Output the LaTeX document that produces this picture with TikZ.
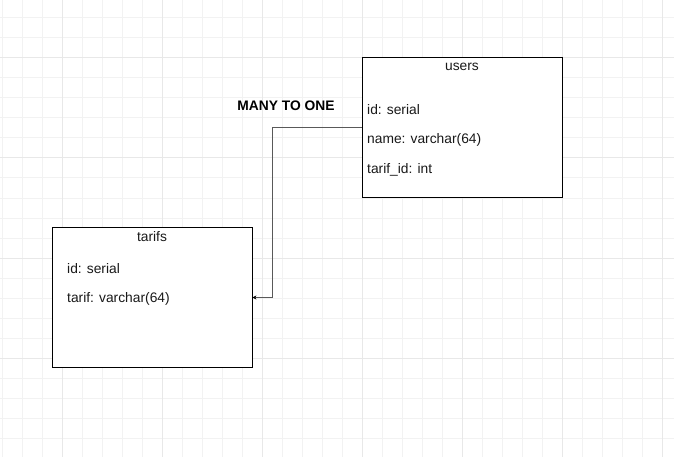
\documentclass[tikz,border=0pt]{standalone}
\usepackage{fontspec}
\setmainfont{Liberation Sans}
\usetikzlibrary{arrows.meta}
\tikzset{
  minorgrid/.style={draw=black!5, line width=1pt},
  majorgrid/.style={draw=black!9, line width=1pt},
  table/.style={draw=black, line width=0.8pt, fill=white, rectangle, minimum width=200pt, inner sep=0pt},
  title/.style={font=\fontsize{13.8}{16}\selectfont, text=black!90, inner sep=0pt},
  field/.style={font=\fontsize{13.8}{16}\selectfont, text=black!90, anchor=west, inner sep=0pt},
  conn/.style={draw=black!65, line width=1pt, -{Stealth[length=4pt,width=4pt,black]}},
  lbl/.style={font=\bfseries\fontsize{13.8}{16}\selectfont, inner sep=0pt}
}
\begin{document}
\begin{tikzpicture}[x=1pt,y=-1pt]
\useasboundingbox (0,0) rectangle (674,457);
\fill[white] (0,0) rectangle (674,457);
% grid
\foreach \i in {0,...,33} { \draw[minorgrid] (2+20*\i,0) -- (2+20*\i,457); }
\foreach \j in {0,...,22} { \draw[minorgrid] (0,-2+20*\j) -- (674,-2+20*\j); }
\foreach \i in {0,...,6} { \draw[majorgrid] (62+100*\i,0) -- (62+100*\i,457); }
\foreach \j in {0,...,3} { \draw[majorgrid] (0,58+100*\j) -- (674,58+100*\j); }
% tables
\node[table, minimum height=140.5pt] (users) at (462,127.5) {};
\node[title] (usersT) at (462,67) {users};
\node[field] (u1) at (367,110) {id: serial};
\node[field] (u2) at (367,140) {name: varchar(64)};
\node[field] (u3) at (367,170) {tarif\_id: int};
\node[table, minimum height=140.5pt] (tarifs) at (152,297.5) {};
\node[title] (tarifsT) at (152,237) {tarifs};
\node[field] (t1) at (67,269) {id: serial};
\node[field] (t2) at (67,299) {tarif: varchar(64)};
% connector
\coordinate (bend) at (272,127.5);
\draw[conn] (users.west) -- (bend) |- (tarifs.east);
\node[lbl] (rel) at (286,106) {MANY TO ONE};
\end{tikzpicture}
\end{document}
